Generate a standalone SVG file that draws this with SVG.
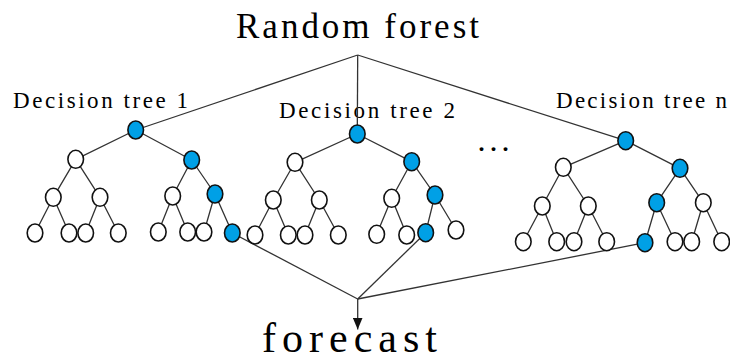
<svg xmlns="http://www.w3.org/2000/svg" width="730" height="361" viewBox="0 0 730 361">
<style>
.t{font-family:"Liberation Serif","Times New Roman",serif;fill:#000}
.e{stroke:#333;stroke-width:1.3;fill:none}
.w{fill:#fff;stroke:#111;stroke-width:1.6}
.b{fill:#00a0e6;stroke:#111;stroke-width:1.6}
</style>
<defs>
<marker id="ah" viewBox="0 0 12 10" refX="12" refY="5" markerWidth="12" markerHeight="10" markerUnits="userSpaceOnUse" orient="auto">
<path d="M0,0 L12,5 L0,10 z" fill="#111"/>
</marker>
</defs>
<g id="labels">
<text class="t" x="236" y="37.5" font-size="35" textLength="243" lengthAdjust="spacing">Random forest</text>
<text class="t" x="13" y="107.5" font-size="23" textLength="175" lengthAdjust="spacing">Decision tree 1</text>
<text class="t" x="279" y="118" font-size="23" textLength="176" lengthAdjust="spacing">Decision tree 2</text>
<text class="t" x="556" y="108" font-size="23" textLength="171" lengthAdjust="spacing">Decision tree n</text>
<text class="t" x="478.5" y="151" font-size="24" font-weight="bold" textLength="30" lengthAdjust="spacing">...</text>
<text class="t" x="262" y="351.5" font-size="42" textLength="175" lengthAdjust="spacing">forecast</text>
</g>
<g id="connectors" class="e">
<line x1="357.7" y1="55" x2="135.7" y2="130"/>
<line x1="357.7" y1="55" x2="357.3" y2="134"/>
<line x1="357.7" y1="55" x2="625.7" y2="140.7"/>
<path d="M135.7,130 L75.7,159.3 M135.7,130 L191.7,160 M75.7,159.3 L53.3,197.3 M75.7,159.3 L100,197.3 M191.7,160 L172.7,196 M191.7,160 L215,194 M53.3,197.3 L35,233 M53.3,197.3 L69,233 M100,197.3 L85.7,233 M100,197.3 L118.3,233 M172.7,196 L158.3,232 M172.7,196 L187.7,232 M215,194 L204,232 M215,194 L232.3,233"/>
<path d="M357.3,134 L295,162.3 M357.3,134 L411.7,161.7 M295,162.3 L273.3,200 M295,162.3 L319.3,200 M411.7,161.7 L391.7,198.3 M411.7,161.7 L435,195 M273.3,200 L255,235 M273.3,200 L288.3,235 M319.3,200 L305,235 M319.3,200 L338.3,235 M391.7,198.3 L376.7,234.3 M391.7,198.3 L406.7,235 M435,195 L425.7,232.7 M435,195 L456,230"/>
<path d="M625.7,140.7 L563.3,167.3 M625.7,140.7 L680,168.3 M563.3,167.3 L542.3,206 M563.3,167.3 L588.3,206 M680,168.3 L656.7,202.7 M680,168.3 L703.3,202.7 M542.3,206 L523.3,241.7 M542.3,206 L556.7,241.7 M588.3,206 L574,241.7 M588.3,206 L606.7,241.7 M656.7,202.7 L645,242.7 M656.7,202.7 L675,241.7 M703.3,202.7 L691.7,241.7 M703.3,202.7 L721.7,241.7"/>
<line x1="232.3" y1="233" x2="357.7" y2="299"/>
<line x1="425.7" y1="232.7" x2="357.7" y2="299"/>
<line x1="645" y1="242.7" x2="357.7" y2="299"/>
<line x1="357.7" y1="299" x2="357.7" y2="329.5" marker-end="url(#ah)"/>
</g>
<g id="t1r"><ellipse class="b" cx="135.7" cy="130" rx="7.8" ry="9"/></g>
<g id="t1a"><ellipse class="w" cx="75.7" cy="159.3" rx="7.8" ry="9"/></g>
<g id="t1b"><ellipse class="b" cx="191.7" cy="160" rx="7.8" ry="9"/></g>
<g id="t1aa"><ellipse class="w" cx="53.3" cy="197.3" rx="7.8" ry="9"/></g>
<g id="t1ab"><ellipse class="w" cx="100" cy="197.3" rx="7.8" ry="9"/></g>
<g id="t1ba"><ellipse class="w" cx="172.7" cy="196" rx="7.8" ry="9"/></g>
<g id="t1bb"><ellipse class="b" cx="215" cy="194" rx="7.8" ry="9"/></g>
<g id="t1l1"><ellipse class="w" cx="35" cy="233" rx="7.8" ry="9"/></g>
<g id="t1l2"><ellipse class="w" cx="69" cy="233" rx="7.8" ry="9"/></g>
<g id="t1l3"><ellipse class="w" cx="85.7" cy="233" rx="7.8" ry="9"/></g>
<g id="t1l4"><ellipse class="w" cx="118.3" cy="233" rx="7.8" ry="9"/></g>
<g id="t1l5"><ellipse class="w" cx="158.3" cy="232" rx="7.8" ry="9"/></g>
<g id="t1l6"><ellipse class="w" cx="187.7" cy="232" rx="7.8" ry="9"/></g>
<g id="t1l7"><ellipse class="w" cx="204" cy="232" rx="7.8" ry="9"/></g>
<g id="t1l8"><ellipse class="b" cx="232.3" cy="233" rx="7.8" ry="9"/></g>
<g id="t2r"><ellipse class="b" cx="357.3" cy="134" rx="7.8" ry="9"/></g>
<g id="t2a"><ellipse class="w" cx="295" cy="162.3" rx="7.8" ry="9"/></g>
<g id="t2b"><ellipse class="b" cx="411.7" cy="161.7" rx="7.8" ry="9"/></g>
<g id="t2aa"><ellipse class="w" cx="273.3" cy="200" rx="7.8" ry="9"/></g>
<g id="t2ab"><ellipse class="w" cx="319.3" cy="200" rx="7.8" ry="9"/></g>
<g id="t2ba"><ellipse class="w" cx="391.7" cy="198.3" rx="7.8" ry="9"/></g>
<g id="t2bb"><ellipse class="b" cx="435" cy="195" rx="7.8" ry="9"/></g>
<g id="t2l1"><ellipse class="w" cx="255" cy="235" rx="7.8" ry="9"/></g>
<g id="t2l2"><ellipse class="w" cx="288.3" cy="235" rx="7.8" ry="9"/></g>
<g id="t2l3"><ellipse class="w" cx="305" cy="235" rx="7.8" ry="9"/></g>
<g id="t2l4"><ellipse class="w" cx="338.3" cy="235" rx="7.8" ry="9"/></g>
<g id="t2l5"><ellipse class="w" cx="376.7" cy="234.3" rx="7.8" ry="9"/></g>
<g id="t2l6"><ellipse class="w" cx="406.7" cy="235" rx="7.8" ry="9"/></g>
<g id="t2l7"><ellipse class="b" cx="425.7" cy="232.7" rx="7.8" ry="9"/></g>
<g id="t2l8"><ellipse class="w" cx="456" cy="230" rx="7.8" ry="9"/></g>
<g id="tnr"><ellipse class="b" cx="625.7" cy="140.7" rx="7.8" ry="9"/></g>
<g id="tna"><ellipse class="w" cx="563.3" cy="167.3" rx="7.8" ry="9"/></g>
<g id="tnb"><ellipse class="b" cx="680" cy="168.3" rx="7.8" ry="9"/></g>
<g id="tnaa"><ellipse class="w" cx="542.3" cy="206" rx="7.8" ry="9"/></g>
<g id="tnab"><ellipse class="w" cx="588.3" cy="206" rx="7.8" ry="9"/></g>
<g id="tnba"><ellipse class="b" cx="656.7" cy="202.7" rx="7.8" ry="9"/></g>
<g id="tnbb"><ellipse class="w" cx="703.3" cy="202.7" rx="7.8" ry="9"/></g>
<g id="tnl1"><ellipse class="w" cx="523.3" cy="241.7" rx="7.8" ry="9"/></g>
<g id="tnl2"><ellipse class="w" cx="556.7" cy="241.7" rx="7.8" ry="9"/></g>
<g id="tnl3"><ellipse class="w" cx="574" cy="241.7" rx="7.8" ry="9"/></g>
<g id="tnl4"><ellipse class="w" cx="606.7" cy="241.7" rx="7.8" ry="9"/></g>
<g id="tnl5"><ellipse class="b" cx="645" cy="242.7" rx="7.8" ry="9"/></g>
<g id="tnl6"><ellipse class="w" cx="675" cy="241.7" rx="7.8" ry="9"/></g>
<g id="tnl7"><ellipse class="w" cx="691.7" cy="241.7" rx="7.8" ry="9"/></g>
<g id="tnl8"><ellipse class="w" cx="721.7" cy="241.7" rx="7.8" ry="9"/></g>
</svg>
